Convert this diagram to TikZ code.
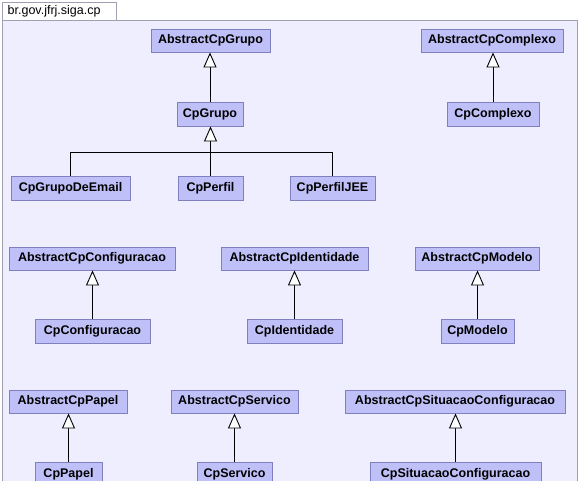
\documentclass[tikz,border=0pt]{standalone}
\usepackage{fontspec}
\setmainfont{Liberation Sans}
\usetikzlibrary{arrows.meta}
\definecolor{bgc}{HTML}{EEEEFF}
\definecolor{nodefill}{HTML}{C0C0F8}
\definecolor{nodeline}{HTML}{8080C0}
\definecolor{framec}{HTML}{A0A0B0}
\tikzset{
  cls/.style={draw=nodeline, fill=nodefill, line width=0.9pt, inner sep=0pt,
    minimum height=23pt, font=\fontsize{12.5}{14}\selectfont\bfseries},
  inh/.style={-{Triangle[open, width=13pt, length=15pt, fill=white]}, line width=0.9pt, black}
}
\begin{document}
\begin{tikzpicture}[x=1pt, y=-1pt]
\useasboundingbox (0,0) rectangle (580,481);
\clip (0,0) rectangle (580,481);
\fill[white] (0,0) rectangle (580,481);
\draw[framec, fill=white, line width=0.8pt] (2.5,2.5) rectangle (116,20);
\node[anchor=west, font=\fontsize{12.5}{14}\selectfont, inner sep=0pt] (pkg) at (7.5,11.5) {br.gov.jfrj.siga.cp};
\draw[framec, fill=bgc, line width=0.8pt] (2.5,20) rectangle (577,495);

\node[cls, minimum width=119pt] (acg) at (210.5,40.5) {AbstractCpGrupo};
\node[cls, minimum width=66pt, minimum height=24pt] (cg) at (210,114) {CpGrupo};
\node[cls, minimum width=119pt, minimum height=24pt] (cge) at (70.5,188) {CpGrupoDeEmail};
\node[cls, minimum width=65pt, minimum height=24pt] (cp) at (210.5,188) {CpPerfil};
\node[cls, minimum width=85pt, minimum height=24pt] (cpj) at (332.5,188) {CpPerfilJEE};

\node[cls, minimum width=142pt] (acc) at (492,40.5) {AbstractCpComplexo};
\node[cls, minimum width=92pt, minimum height=24pt] (cc) at (493,114) {CpComplexo};

\node[cls, minimum width=166pt] (acf) at (92,258.5) {AbstractCpConfiguracao};
\node[cls, minimum width=115pt, minimum height=24pt] (cf) at (92.5,331) {CpConfiguracao};
\node[cls, minimum width=147pt] (aci) at (294.5,258.5) {AbstractCpIdentidade};
\node[cls, minimum width=95pt, minimum height=24pt] (ci) at (294.5,331) {CpIdentidade};
\node[cls, minimum width=124pt] (acm) at (477,258.5) {AbstractCpModelo};
\node[cls, minimum width=73pt, minimum height=24pt] (cm) at (477.5,331) {CpModelo};

\node[cls, minimum width=118pt] (acp) at (68,401.5) {AbstractCpPapel};
\node[cls, minimum width=67pt, minimum height=24pt] (cpp) at (68.5,474) {CpPapel};
\node[cls, minimum width=127pt] (acs) at (234.5,401.5) {AbstractCpServico};
\node[cls, minimum width=75pt, minimum height=24pt] (cs) at (234.5,474) {CpServico};
\node[cls, minimum width=220pt] (acsc) at (455,401.5) {AbstractCpSituacaoConfiguracao};
\node[cls, minimum width=171pt, minimum height=24pt] (csc) at (455.5,474) {CpSituacaoConfiguracao};

\coordinate (j) at (210,152);
\draw[inh] (cg.north) -- (acg.south -| cg.north);
\draw[line width=0.9pt] (cge.north) |- (j);
\draw[line width=0.9pt] (cpj.north) |- (j);
\draw[inh] (cp.north) -- (cg.south -| cp.north);
\draw[inh] (cc.north) -- (acc.south -| cc.north);
\draw[inh] (cf.north) -- (acf.south -| cf.north);
\draw[inh] (ci.north) -- (aci.south -| ci.north);
\draw[inh] (cm.north) -- (acm.south -| cm.north);
\draw[inh] (cpp.north) -- (acp.south -| cpp.north);
\draw[inh] (cs.north) -- (acs.south -| cs.north);
\draw[inh] (csc.north) -- (acsc.south -| csc.north);
\end{tikzpicture}
\end{document}
